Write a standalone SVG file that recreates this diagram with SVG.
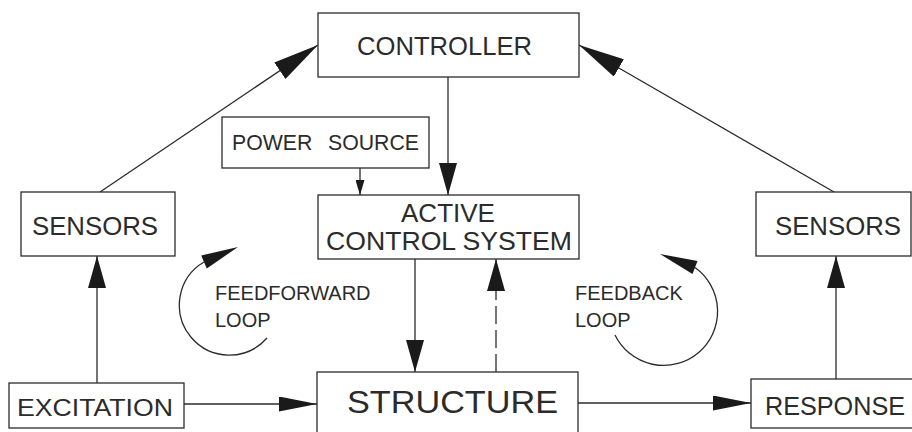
<svg xmlns="http://www.w3.org/2000/svg" width="912" height="432" viewBox="0 0 912 432">
  <style>
    .box { fill: #ffffff; stroke: #2b2b2b; stroke-width: 1.3; }
    .lbl { font-family: "Liberation Sans", Arial, sans-serif; fill: #2b2b2b; }
    .wire { fill: none; stroke: #2b2b2b; stroke-width: 1.3; }
    .dash { stroke-dasharray: 18 6; }
    .head { fill: #1a1a1a; stroke: none; }
  </style>
  <defs>
    <marker id="head-v" viewBox="0 0 32 18" refX="32" refY="9" markerWidth="32" markerHeight="18" markerUnits="userSpaceOnUse" orient="auto">
      <path class="head" d="M0,0 L32,9 L0,18 z"/>
    </marker>
    <marker id="head-h" viewBox="0 0 38 15" refX="38" refY="7.5" markerWidth="38" markerHeight="15" markerUnits="userSpaceOnUse" orient="auto">
      <path class="head" d="M0,0 L38,7.5 L0,15 z"/>
    </marker>
    <marker id="head-d" viewBox="0 0 46 20" refX="46" refY="10" markerWidth="46" markerHeight="20" markerUnits="userSpaceOnUse" orient="auto">
      <path class="head" d="M0,0 L46,10 L0,20 z"/>
    </marker>
    <marker id="head-s" viewBox="0 0 15 9" refX="15" refY="4.5" markerWidth="15" markerHeight="9" markerUnits="userSpaceOnUse" orient="auto">
      <path class="head" d="M0,0 L15,4.5 L0,9 z"/>
    </marker>
  </defs>

  <rect width="912" height="432" fill="#ffffff"/>

  <!-- connectors -->
  <g id="connectors">
    <line class="wire" x1="100" y1="192" x2="318" y2="45" marker-end="url(#head-d)"/>
    <line class="wire" x1="834" y1="192" x2="579" y2="45" marker-end="url(#head-d)"/>
    <line class="wire" x1="448" y1="77" x2="448" y2="195" marker-end="url(#head-v)"/>
    <line class="wire" x1="360" y1="168" x2="360" y2="195" marker-end="url(#head-s)"/>
    <line class="wire" x1="97" y1="383" x2="97" y2="256" marker-end="url(#head-v)"/>
    <line class="wire" x1="836" y1="379" x2="836" y2="256" marker-end="url(#head-v)"/>
    <line class="wire" x1="415" y1="259" x2="415" y2="372" marker-end="url(#head-v)"/>
    <line class="wire dash" x1="496" y1="372" x2="496" y2="259" marker-end="url(#head-v)"/>
    <line class="wire" x1="184" y1="404" x2="317" y2="404" marker-end="url(#head-h)"/>
    <line class="wire" x1="578" y1="403" x2="751" y2="403" marker-end="url(#head-h)"/>
    <!-- feedforward loop -->
    <path class="wire" d="M267,338 A50,50 0 1,1 204,262"/>
    <polygon class="head" points="238,247 206.8,268.4 201.2,255.6"/>
    <!-- feedback loop -->
    <path class="wire" d="M615,335 A54,54 0 1,0 695,267.5"/>
    <polygon class="head" points="660,254 697.5,261 692.5,274"/>
  </g>

  <g id="controller">
    <rect class="box" x="318" y="13" width="261" height="64"/>
    <text class="lbl" x="357" y="55" font-size="26" textLength="175" lengthAdjust="spacingAndGlyphs">CONTROLLER</text>
  </g>

  <g id="power-source">
    <rect class="box" x="222" y="117" width="207" height="51"/>
    <text class="lbl" x="232" y="150" font-size="22" word-spacing="10" textLength="187" lengthAdjust="spacingAndGlyphs">POWER SOURCE</text>
  </g>

  <g id="active-control-system">
    <rect class="box" x="318" y="195" width="261" height="64"/>
    <text class="lbl" x="448" y="222" font-size="26" text-anchor="middle">ACTIVE</text>
    <text class="lbl" x="326" y="250" font-size="26" textLength="246" lengthAdjust="spacingAndGlyphs">CONTROL SYSTEM</text>
  </g>

  <g id="sensors-left">
    <rect class="box" x="21" y="192" width="154" height="64"/>
    <text class="lbl" x="32" y="235" font-size="26" textLength="126" lengthAdjust="spacingAndGlyphs">SENSORS</text>
  </g>

  <g id="sensors-right">
    <rect class="box" x="756" y="192" width="155" height="64"/>
    <text class="lbl" x="775" y="235" font-size="26" textLength="126" lengthAdjust="spacingAndGlyphs">SENSORS</text>
  </g>

  <g id="feedforward-label">
    <text class="lbl" x="215" y="300" font-size="20">FEEDFORWARD</text>
    <text class="lbl" x="215" y="327" font-size="20">LOOP</text>
  </g>

  <g id="feedback-label">
    <text class="lbl" x="575" y="300" font-size="20">FEEDBACK</text>
    <text class="lbl" x="575" y="327" font-size="20">LOOP</text>
  </g>

  <g id="excitation">
    <rect class="box" x="9" y="383" width="175" height="45"/>
    <text class="lbl" x="17" y="416" font-size="24" textLength="156" lengthAdjust="spacingAndGlyphs">EXCITATION</text>
  </g>

  <g id="structure">
    <rect class="box" x="317" y="372" width="261" height="70"/>
    <text class="lbl" x="347" y="413" font-size="32" textLength="211" lengthAdjust="spacingAndGlyphs">STRUCTURE</text>
  </g>

  <g id="response">
    <rect class="box" x="751" y="379" width="170" height="49"/>
    <text class="lbl" x="765" y="415" font-size="25" textLength="140" lengthAdjust="spacingAndGlyphs">RESPONSE</text>
  </g>
</svg>
